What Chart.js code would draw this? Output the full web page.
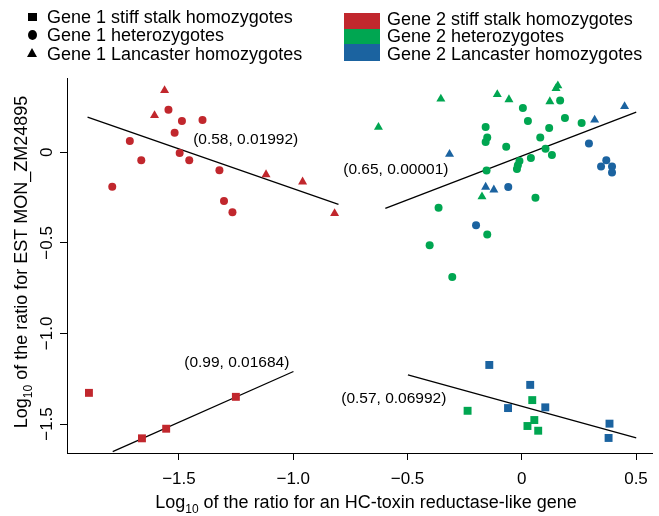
<!DOCTYPE html>
<html>
<head>
<meta charset="utf-8">
<script src="https://cdn.jsdelivr.net/npm/chart.js@4.4.1/dist/chart.umd.min.js"></script>
<style>
    body { margin: 0; background: #fff; }
    #wrap { position: relative; width: 659px; height: 516px; font-family: "Liberation Sans", Arial, Helvetica, sans-serif; }
    .leg { position: absolute; font-size: 18px; line-height: 18px; color: #000; white-space: nowrap; }
    .mk { position: absolute; }
    .sq { width: 9px; height: 8px; background: #000; }
    .ci { width: 9px; height: 10px; border-radius: 50%; background: #000; }
    .tr { width: 0; height: 0; border-left: 5px solid transparent; border-right: 5px solid transparent; border-bottom: 9px solid #000; }
    .sw { position: absolute; width: 36px; }
</style>
</head>
<body>
<div id="wrap">
    <canvas id="chart"></canvas>

    <div class="mk sq" style="left:28px; top:13px;"></div>
    <div class="leg" style="left:47px; top:8px;">Gene 1 stiff stalk homozygotes</div>
    <div class="mk ci" style="left:28px; top:30px;"></div>
    <div class="leg" style="left:47px; top:26px;">Gene 1 heterozygotes</div>
    <div class="mk tr" style="left:27px; top:48px;"></div>
    <div class="leg" style="left:47px; top:45px;">Gene 1 Lancaster homozygotes</div>

    <div class="sw" style="left:344px; top:13px; height:16px; background:#c1272d;"></div>
    <div class="sw" style="left:344px; top:29px; height:15px; background:#00a651;"></div>
    <div class="sw" style="left:344px; top:44px; height:17px; background:#1b63a0;"></div>
    <div class="leg" style="left:387px; top:10px;">Gene 2 stiff stalk homozygotes</div>
    <div class="leg" style="left:387px; top:27px;">Gene 2 heterozygotes</div>
    <div class="leg" style="left:387px; top:45px;">Gene 2 Lancaster homozygotes</div>
</div>

<script>
// ---------------------------------------------------------------------------
// data
// ---------------------------------------------------------------------------
const RED = '#c1272d';
const GREEN = '#00a651';
const BLUE = '#1b63a0';

// colour = Gene 2 genotype, shape = Gene 1 genotype
const redTriX = [-1.563, -1.607, -1.119, -0.959, -0.819];
const redTriY = [0.341, 0.203, -0.123, -0.163, -0.337];
const redCircX = [-1.546, -1.487, -1.397, -1.519, -1.715, -1.497, -1.455, -1.665, -1.323, -1.792, -1.303, -1.266];
const redCircY = [0.235, 0.172, 0.178, 0.108, 0.062, -0.004, -0.044, -0.044, -0.099, -0.190, -0.269, -0.331];
const redSqX = [-1.894, -1.662, -1.556, -1.251];
const redSqY = [-1.328, -1.579, -1.526, -1.350];

const greenTriX = [-0.627, -0.354, -0.107, -0.056, 0.150, 0.158, 0.123, -0.174];
const greenTriY = [0.139, 0.295, 0.319, 0.291, 0.352, 0.368, 0.280, -0.245];
const greenCircX = [0.005, 0.027, 0.168, 0.189, 0.262, 0.120, 0.081, 0.104, 0.132, 0.040, -0.010, -0.017, -0.021,
    -0.068, -0.158, -0.151, -0.158, -0.154, 0.060, -0.364, -0.151, -0.403, -0.304];
const greenCircY = [0.244, 0.172, 0.286, 0.189, 0.161, 0.134, 0.082, 0.020, -0.015, -0.031, -0.048, -0.071, -0.093,
    0.031, 0.139, 0.082, 0.057, -0.101, -0.251, -0.306, -0.454, -0.513, -0.689];
const greenSqX = [-0.237, 0.046, 0.055, 0.025, 0.072];
const greenSqY = [-1.427, -1.368, -1.478, -1.511, -1.537];

const blueTriX = [-0.316, -0.158, -0.122, 0.319, 0.450];
const blueTriY = [-0.011, -0.192, -0.207, 0.179, 0.253];
const blueCircX = [0.294, -0.059, -0.200, 0.370, 0.347, 0.395, 0.395];
const blueCircY = [0.048, -0.192, -0.403, -0.044, -0.079, -0.079, -0.112];
const blueSqX = [-0.142, 0.037, -0.060, 0.103, 0.384, 0.380];
const blueSqY = [-1.174, -1.284, -1.412, -1.408, -1.498, -1.577];

// regression lines (end points)
const fitAX = [-1.900, -0.802];
const fitAY = [0.194, -0.287];
const fitBX = [-0.597, 0.501];
const fitBY = [-0.310, 0.222];
const fitCX = [-1.790, -0.999];
const fitCY = [-1.652, -1.210];
const fitDX = [-0.498, 0.501];
const fitDY = [-1.229, -1.577];

const fitLabels = ['(0.58, 0.01992)', '(0.65, 0.00001)', '(0.99, 0.01684)', '(0.57, 0.06992)'];
const fitLabelX = [-1.438, -0.781, -1.477, -0.790];
const fitLabelY = [0.072, -0.094, -1.160, -1.359];

const xTicks = [-1.5, -1.0, -0.5, 0, 0.5];
const xTickLabels = ['\u22121.5', '\u22121.0', '\u22120.5', '0', '0.5'];
const yTicks = [0, -0.5, -1.0, -1.5];
const yTickLabels = ['0', '\u22120.5', '\u22121.0', '\u22121.5'];

const xTitle = ' of the ratio for an HC-toxin reductase-like gene';
const yTitle = ' of the ratio for EST MON_ZM24895';

// ---------------------------------------------------------------------------
// helpers
// ---------------------------------------------------------------------------
const FONT = '"Liberation Sans", Arial, Helvetica, sans-serif';
Chart.defaults.font.family = FONT;
Chart.defaults.color = '#000';

function pts(xs, ys) {
    return xs.map((x, i) => ({ x: x, y: ys[i] }));
}

function marks(xs, ys, color, shape) {
    const r = shape === 'rect' ? 5.6 : (shape === 'triangle' ? 5.2 : 4);
    return {
        type: 'scatter',
        data: pts(xs, ys),
        pointStyle: shape,
        pointRadius: r,
        pointHoverRadius: r,
        backgroundColor: color,
        borderWidth: 0,
        order: 1
    };
}

function fit(xs, ys) {
    return {
        type: 'line',
        data: pts(xs, ys),
        borderColor: '#000',
        borderWidth: 1.3,
        pointRadius: 0,
        fill: false,
        order: 2
    };
}

// "Log" + subscript "10" + rest, centred on (cx, baseline)
function logTitle(ctx, rest, cx, cy, angle) {
    const big = '18px ' + FONT;
    const small = '12px ' + FONT;
    ctx.font = big;
    const w1 = ctx.measureText('Log').width;
    const w3 = ctx.measureText(rest).width;
    ctx.font = small;
    const w2 = ctx.measureText('10').width;
    const total = w1 + w2 + w3;
    ctx.save();
    ctx.translate(cx, cy);
    ctx.rotate(angle);
    ctx.textAlign = 'left';
    ctx.textBaseline = 'alphabetic';
    let x0 = -total / 2;
    ctx.font = big;
    ctx.fillText('Log', x0, 0);
    ctx.font = small;
    ctx.fillText('10', x0 + w1, 5);
    ctx.font = big;
    ctx.fillText(rest, x0 + w1 + w2, 0);
    ctx.restore();
}

const textPlugin = {
    id: 'texts',
    afterDraw(chart) {
        const { ctx } = chart;
        const sx = chart.scales.x;
        const sy = chart.scales.y;
        ctx.save();
        ctx.fillStyle = '#000';

        // rotated y tick labels
        ctx.font = '17px ' + FONT;
        yTicks.forEach((v, i) => {
            ctx.save();
            ctx.translate(47, sy.getPixelForValue(v));
            ctx.rotate(-Math.PI / 2);
            ctx.textAlign = 'center';
            ctx.textBaseline = 'middle';
            ctx.fillText(yTickLabels[i], 0, 0);
            ctx.restore();
        });

        // regression annotations
        ctx.font = '15.5px ' + FONT;
        ctx.textAlign = 'left';
        ctx.textBaseline = 'middle';
        fitLabels.forEach((t, i) => {
            ctx.fillText(t, sx.getPixelForValue(fitLabelX[i]), sy.getPixelForValue(fitLabelY[i]));
        });

        // axis titles
        logTitle(ctx, xTitle, 366, 508, 0);
        logTitle(ctx, yTitle, 27, 262, -Math.PI / 2);
        ctx.restore();
    }
};

// ---------------------------------------------------------------------------
// chart
// ---------------------------------------------------------------------------
const ctx = document.getElementById('chart').getContext('2d');
const chart = new Chart(ctx, {
    type: 'scatter',
    data: {
        datasets: [
            fit(fitAX, fitAY),
            fit(fitBX, fitBY),
            fit(fitCX, fitCY),
            fit(fitDX, fitDY),
            marks(redTriX, redTriY, RED, 'triangle'),
            marks(redCircX, redCircY, RED, 'circle'),
            marks(redSqX, redSqY, RED, 'rect'),
            marks(greenTriX, greenTriY, GREEN, 'triangle'),
            marks(greenCircX, greenCircY, GREEN, 'circle'),
            marks(greenSqX, greenSqY, GREEN, 'rect'),
            marks(blueTriX, blueTriY, BLUE, 'triangle'),
            marks(blueCircX, blueCircY, BLUE, 'circle'),
            marks(blueSqX, blueSqY, BLUE, 'rect')
        ]
    },
    options: {
        responsive: true,
        maintainAspectRatio: false,
        animation: false,
        events: [],
        layout: { padding: { top: 78, right: 7, left: 0, bottom: 0 } },
        plugins: {
            legend: { display: false },
            tooltip: { enabled: false }
        },
        scales: {
            x: {
                type: 'linear',
                min: -1.99,
                max: 0.57,
                afterBuildTicks: (s) => { s.ticks = xTicks.map(v => ({ value: v })); },
                afterFit: (s) => { s.height = 63; },
                ticks: {
                    autoSkip: false,
                    maxRotation: 0,
                    padding: 9,
                    font: { size: 17 },
                    callback: (v) => xTickLabels[xTicks.indexOf(v)]
                },
                grid: { drawOnChartArea: false, drawTicks: true, tickLength: 7, color: '#000', lineWidth: 1 },
                border: { display: true, color: '#000', width: 1 }
            },
            y: {
                type: 'linear',
                min: -1.66,
                max: 0.41,
                afterBuildTicks: (s) => { s.ticks = yTicks.map(v => ({ value: v })); },
                afterFit: (s) => { s.width = 67; },
                ticks: { display: false },
                grid: { drawOnChartArea: false, drawTicks: true, tickLength: 7, color: '#000', lineWidth: 1 },
                border: { display: true, color: '#000', width: 1 }
            }
        }
    },
    plugins: [textPlugin]
});
</script>
</body>
</html>
